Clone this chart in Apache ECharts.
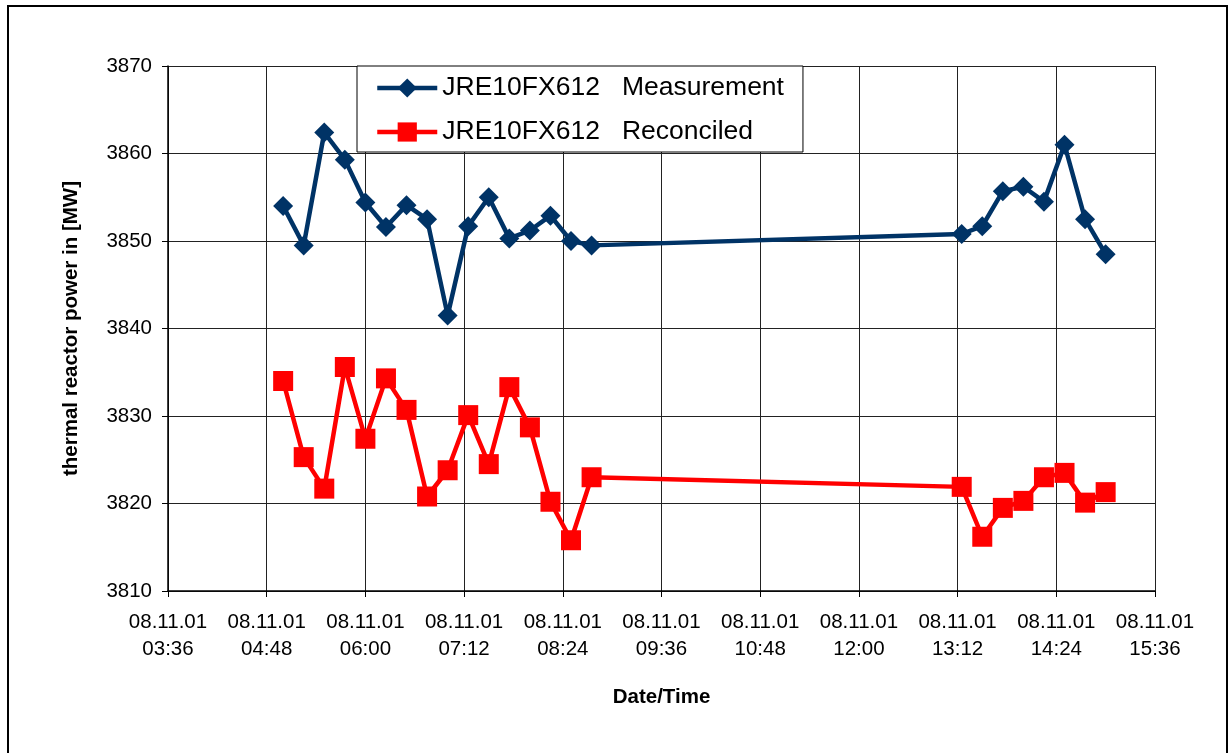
<!DOCTYPE html>
<html>
<head>
<meta charset="utf-8">
<script src="https://cdn.jsdelivr.net/npm/echarts@6/dist/echarts.min.js"></script>
<style>
  html, body { margin: 0; padding: 0; background: #fff; }
  #chart { width: 1231px; height: 753px; }
</style>
</head>
<body>
<div id="chart"></div>
<script>
// sample times (08.11.01), 15 minute steps with a gap
var times = ['05:00', '05:15', '05:30', '05:45', '06:00', '06:15', '06:30', '06:45',
  '07:00', '07:15', '07:30', '07:45', '08:00', '08:15', '08:30', '08:45',
  '13:15', '13:30', '13:45', '14:00', '14:15', '14:30', '14:45', '15:00'];
var measurement = [3854.0, 3849.5, 3862.4, 3859.3, 3854.4, 3851.6, 3854.1, 3852.5,
  3841.5, 3851.7, 3855.0, 3850.3, 3851.2, 3852.9, 3850.0, 3849.5,
  3850.8, 3851.7, 3855.7, 3856.2, 3854.5, 3861.0, 3852.5, 3848.5];
var reconciled = [3834.0, 3825.3, 3821.7, 3835.6, 3827.4, 3834.3, 3830.7, 3820.8,
  3823.8, 3830.1, 3824.5, 3833.3, 3828.7, 3820.2, 3815.8, 3823.0,
  3821.9, 3816.2, 3819.5, 3820.3, 3823.0, 3823.5, 3820.1, 3821.3];
var seriesNames = ['JRE10FX612   Measurement', 'JRE10FX612   Reconciled'];
var dateLabel = '08.11.01';
var xMin = '03:36', xMax = '15:36', xStep = 72; // minutes
var yMin = 3810, yMax = 3870, yStep = 10;

function toMin(t) {
  var p = t.split(':');
  return (+p[0]) * 60 + (+p[1]);
}
function fmt(m) {
  var h = Math.floor(m / 60), mm = m % 60;
  return (h < 10 ? '0' : '') + h + ':' + (mm < 10 ? '0' : '') + mm;
}
function pairs(vals) {
  return vals.map(function (v, i) { return [toMin(times[i]), v]; });
}

var font = 'Liberation Sans';
var chart = echarts.init(document.getElementById('chart'));
chart.setOption({
  animation: false,
  backgroundColor: '#fff',
  textStyle: { fontFamily: font },
  graphic: [{
    type: 'rect',
    silent: true,
    shape: { x: 8, y: 6, width: 1219, height: 800 },
    style: { fill: null, stroke: '#000', lineWidth: 2 }
  }],
  grid: { left: 168, top: 66, width: 987, height: 525 },
  legend: {
    orient: 'vertical',
    left: 357,
    top: 66,
    padding: [7, 19, 5, 18],
    itemWidth: 60,
    itemHeight: 24,
    itemGap: 14,
    backgroundColor: '#fff',
    borderColor: '#000',
    borderWidth: 1,
    borderRadius: 0,
    lineStyle: { width: 4.5 },
    textStyle: { fontFamily: font, fontSize: 26.5, color: '#000', lineHeight: 30 },
    data: seriesNames
  },
  xAxis: {
    type: 'value',
    min: toMin(xMin),
    max: toMin(xMax),
    interval: xStep,
    name: 'Date/Time',
    nameLocation: 'middle',
    nameGap: 96,
    nameTextStyle: { fontFamily: font, fontSize: 20.5, fontWeight: 'bold', color: '#000' },
    axisLine: { lineStyle: { color: '#000', width: 1.5 } },
    axisTick: { show: true, length: 6, lineStyle: { color: '#000' } },
    axisLabel: {
      margin: 18,
      fontSize: 20.5,
      lineHeight: 27,
      color: '#000',
      fontFamily: font,
      formatter: function (v) { return dateLabel + '\n' + fmt(v); }
    },
    splitLine: { show: true, lineStyle: { color: '#222', width: 1 } }
  },
  yAxis: {
    type: 'value',
    min: yMin,
    max: yMax,
    interval: yStep,
    name: 'thermal reactor power in [MW]',
    nameLocation: 'middle',
    nameGap: 86,
    nameTextStyle: { fontFamily: font, fontSize: 20.5, fontWeight: 'bold', color: '#000' },
    axisLine: { show: true, lineStyle: { color: '#000', width: 1.5 } },
    axisTick: { show: true, length: 6, lineStyle: { color: '#000' } },
    axisLabel: {
      margin: 16, fontSize: 20.5, color: '#000', fontFamily: font,
      formatter: function (v) { return String(v); }
    },
    splitLine: { show: true, lineStyle: { color: '#222', width: 1 } }
  },
  series: [
    {
      name: seriesNames[0],
      type: 'line',
      data: pairs(measurement),
      symbol: 'diamond',
      symbolSize: 20,
      color: '#003366',
      lineStyle: { color: '#003366', width: 4.5 },
      itemStyle: { color: '#003366' }
    },
    {
      name: seriesNames[1],
      type: 'line',
      data: pairs(reconciled),
      symbol: 'rect',
      symbolSize: 20,
      color: '#ff0000',
      lineStyle: { color: '#ff0000', width: 4.5 },
      itemStyle: { color: '#ff0000' }
    }
  ]
});
</script>
</body>
</html>
